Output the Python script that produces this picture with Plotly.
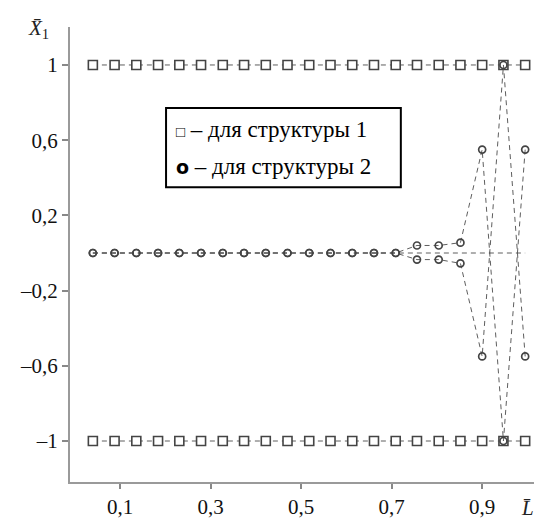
import plotly.graph_objects as go

# Normalised length L̄ (abscissa of every computed point)
L_values = [0.040, 0.088, 0.136, 0.184, 0.231, 0.279, 0.327, 0.374, 0.422, 0.470,
            0.518, 0.565, 0.613, 0.661, 0.709, 0.756, 0.804, 0.852, 0.900, 0.947, 0.995]

# Structure 1: two flat branches
s1_upper = [1.0] * 21
s1_lower = [-1.0] * 21

# Structure 2: bifurcating branches
s2_branch_a = [0, 0, 0, 0, 0, 0, 0, 0, 0, 0, 0, 0, 0, 0, 0,
               0.040, 0.040, 0.055, 0.550, -1.0, 0.550]
s2_branch_b = [0, 0, 0, 0, 0, 0, 0, 0, 0, 0, 0, 0, 0, 0, 0,
               -0.035, -0.035, -0.055, -0.550, 1.0, -0.550]
s2_zero = [0.0] * 21

x_ticks = [0.1, 0.3, 0.5, 0.7, 0.9]
x_tick_text = ["0,1", "0,3", "0,5", "0,7", "0,9"]
y_ticks = [1, 0.6, 0.2, -0.2, -0.6, -1]
y_tick_text = ["1", "0,6", "0,2", "\u20130,2", "\u20130,6", "\u20131"]

legend_lines = [
    "<span style='font-size:15px'>\u25a1</span> \u2013 для структуры 1",
    "<span style='font-family:DejaVu Sans;font-size:19px'><b>o</b></span> \u2013 для структуры 2",
]

LINE_C = "#5e5e5e"
MARK_C = "#444444"
DASH = "5px,4px"

fig = go.Figure()

# zero line of structure 2 (no markers)
fig.add_trace(go.Scatter(x=L_values, y=s2_zero, mode="lines",
                         line=dict(color=LINE_C, width=1, dash=DASH),
                         showlegend=False, hoverinfo="skip"))

for ys in (s1_upper, s1_lower):
    fig.add_trace(go.Scatter(
        x=L_values, y=ys, mode="lines+markers",
        line=dict(color=LINE_C, width=1, dash=DASH),
        marker=dict(symbol="square", size=9, color="white",
                    line=dict(color=MARK_C, width=1.6)),
        showlegend=False))

for ys in (s2_branch_a, s2_branch_b):
    fig.add_trace(go.Scatter(
        x=L_values, y=ys, mode="lines+markers",
        line=dict(color=LINE_C, width=1, dash=DASH),
        marker=dict(symbol="circle-open", size=7, color=MARK_C,
                    line=dict(color=MARK_C, width=1.7)),
        showlegend=False))

serif = "Liberation Serif, Times New Roman, serif"

fig.update_layout(
    width=534, height=520,
    margin=dict(l=70, r=0, t=27, b=38),
    paper_bgcolor="white", plot_bgcolor="white",
    font=dict(family=serif, size=21, color="#111"),
    xaxis=dict(range=[-0.0105, 1.0145], showgrid=False, zeroline=False,
               showline=True, linecolor="#9a9a9a", linewidth=2,
               ticks="outside", ticklen=5, tickwidth=1.5, tickcolor="#888",
               tickvals=x_ticks, ticktext=x_tick_text,
               tickfont=dict(family=serif, size=21, color="#111")),
    yaxis=dict(range=[-1.218, 1.202], showgrid=False, zeroline=False,
               showline=True, linecolor="#9a9a9a", linewidth=2,
               ticks="outside", ticklen=6, tickwidth=1.5, tickcolor="#888",
               tickvals=y_ticks, ticktext=y_tick_text,
               tickfont=dict(family=serif, size=21, color="#111")),
    shapes=[
        dict(type="rect", xref="paper", yref="paper",
             x0=0.207, x1=0.713, y0=0.648, y1=0.822,
             line=dict(color="black", width=2), fillcolor="white", layer="above"),
    ],
    annotations=[
        dict(text=legend_lines[0], xref="paper", yref="paper",
             x=0.224, y=0.774, xanchor="left", yanchor="middle",
             showarrow=False, font=dict(family=serif, size=23, color="black")),
        dict(text=legend_lines[1], xref="paper", yref="paper",
             x=0.224, y=0.693, xanchor="left", yanchor="middle",
             showarrow=False, font=dict(family=serif, size=23, color="black")),
        dict(text="<i>X\u0304</i><sub>1</sub>", xref="paper", yref="paper",
             x=-0.068, y=0.995, xanchor="center", yanchor="middle",
             showarrow=False, font=dict(family=serif, size=21, color="#222")),
        dict(text="<i>L\u0304</i>", xref="paper", yref="paper",
             x=0.985, y=-0.057, xanchor="center", yanchor="middle",
             showarrow=False, font=dict(family=serif, size=21, color="#222")),
    ],
)

fig.write_html("out.html")
